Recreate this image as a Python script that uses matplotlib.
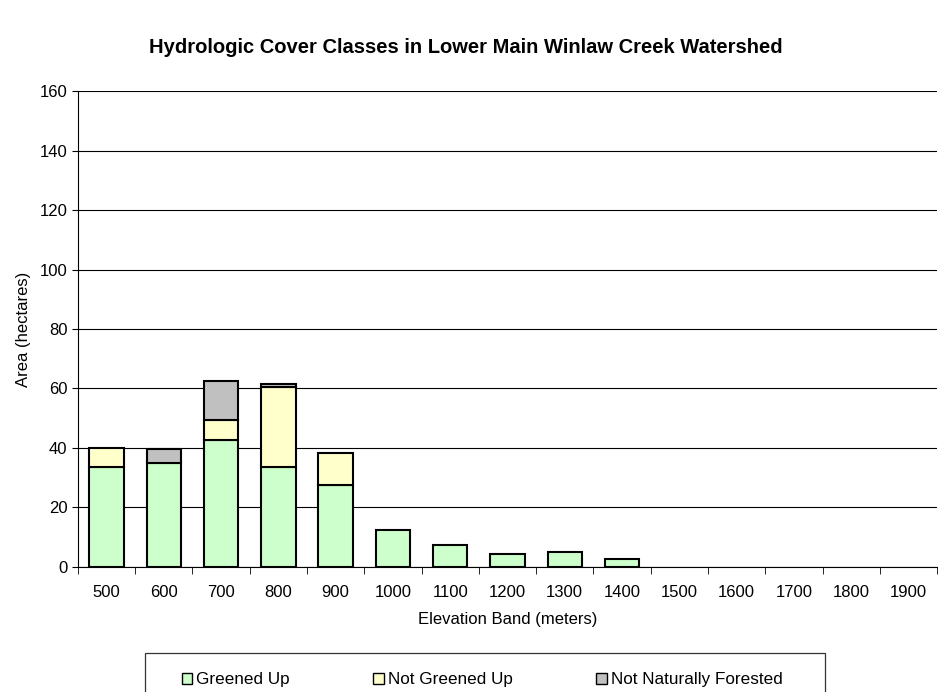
import numpy as np
import matplotlib.pyplot as plt
from matplotlib.patches import Patch, Rectangle

plt.rcParams["font.family"] = ["Liberation Sans", "DejaVu Sans"]

bands = ["500", "600", "700", "800", "900", "1000", "1100", "1200", "1300",
         "1400", "1500", "1600", "1700", "1800", "1900"]
greened_up = [33.5, 34.9, 42.7, 33.5, 27.6, 12.2, 7.4, 4.3, 4.9, 2.5, 0, 0, 0, 0, 0]
not_greened_up = [6.4, 0, 6.7, 27.1, 10.8, 0, 0, 0, 0, 0, 0, 0, 0, 0, 0]
not_nat_forested = [0, 4.7, 13.0, 0.9, 0, 0, 0, 0, 0, 0, 0, 0, 0, 0, 0]

COLORS = {"green": "#CCFFCC", "yellow": "#FFFFCC", "grey": "#C0C0C0"}


def stacked(ax, x, h, bottom, color):
    # skip empty segments so no flat outline shows at zero
    keep = h > 0
    ax.bar(x[keep], h[keep], bottom=bottom[keep], width=0.6, color=color,
           edgecolor="black", linewidth=1.5, zorder=3)


fig = plt.figure(figsize=(9.38, 6.92), dpi=100)
ax = fig.add_axes([0.083, 0.181, 0.916, 0.687])

x = np.arange(len(bands))
g = np.array(greened_up)
y = np.array(not_greened_up)
n = np.array(not_nat_forested)
stacked(ax, x, g, np.zeros_like(g), COLORS["green"])
stacked(ax, x, y, g, COLORS["yellow"])
stacked(ax, x, n, g + y, COLORS["grey"])

ax.set_xlim(-0.5, len(bands) - 0.5)
ax.set_ylim(0, 160)
ax.set_yticks(range(0, 161, 20))
ax.set_xticks(x)
ax.set_xticklabels(bands, fontsize=12)
ax.set_xticks(np.arange(-0.5, len(bands), 1), minor=True)
ax.tick_params(axis="x", which="major", length=0, pad=13)
ax.tick_params(axis="x", which="minor", length=5, color="black")
ax.tick_params(axis="y", labelsize=12, length=4, color="black")
ax.yaxis.grid(True, color="black", linewidth=0.8, zorder=0)
ax.set_axisbelow(True)
for s in ["top", "right"]:
    ax.spines[s].set_visible(False)

ax.set_xlabel("Elevation Band (meters)", fontsize=12, labelpad=9)
ax.set_ylabel("Area (hectares)", fontsize=12, labelpad=6)
fig.text(0.497, 0.931, "Hydrologic Cover Classes in Lower Main Winlaw Creek Watershed",
         ha="center", va="center", fontsize=14.5, fontweight="bold")

# legend box is wider than its entries and runs off the bottom edge
fig.patches.append(Rectangle((0.155, -0.05), 0.724, 0.05 + 0.056,
                             transform=fig.transFigure, facecolor="white",
                             edgecolor="#333333", linewidth=0.9, zorder=1))
handles = [Patch(facecolor=COLORS["green"], edgecolor="black", label="Greened Up"),
           Patch(facecolor=COLORS["yellow"], edgecolor="black", label="Not Greened Up"),
           Patch(facecolor=COLORS["grey"], edgecolor="black", label="Not Naturally Forested")]
leg = fig.legend(handles=handles, loc="center", bbox_to_anchor=(0.514, 0.0175),
                 ncol=3, fontsize=12.3, frameon=False,
                 handlelength=0.6, handleheight=0.6, handletextpad=0.25,
                 columnspacing=4.9, borderpad=0.2)
leg.set_zorder(2)

fig.savefig("out.png", dpi=100)
